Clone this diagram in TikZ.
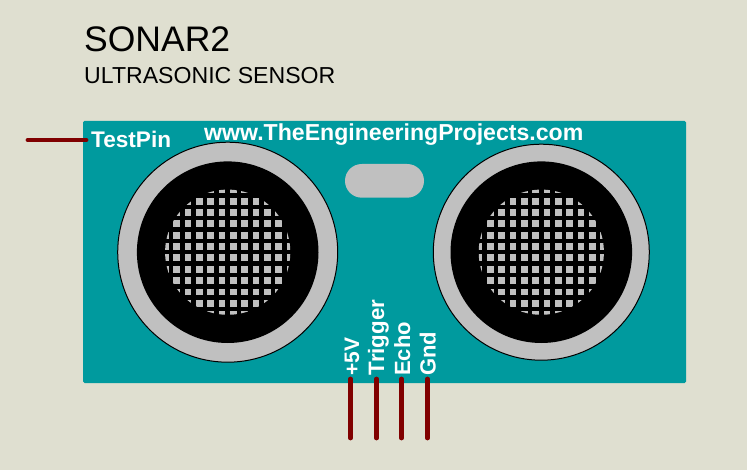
\documentclass[tikz,border=0pt]{standalone}
\usepackage{fontspec}
\setmainfont{Liberation Sans}
\definecolor{bgc}{HTML}{DFDFD0}
\definecolor{teal1}{HTML}{009A9E}
\definecolor{gry}{HTML}{C0C0C0}
\definecolor{pinc}{HTML}{800000}
\newcommand{\sonarcan}[3]{%
  \fill[gry,draw=black,line width=1pt] (#1,#2) circle[radius=#3];
  \fill[black] (#1,#2) circle[radius=90.8];
  \begin{scope}
    \clip (#1,#2) circle[radius=62.6];
    \foreach \i in {-6,...,5}{\foreach \j in {-6,...,5}{
      \fill[gry] ({#1+(\i+.5)*11.35-3.4},{#2+(\j+.5)*11.35-3.4}) rectangle ++(6.8,6.8);
    }}
  \end{scope}}
\tikzset{
  x=1pt,y=-1pt,
  boldlabel/.style={text=white,inner sep=0pt,anchor=base west,font=\bfseries\fontsize{22}{22}\selectfont},
  pinlabel/.style={boldlabel,rotate=90},
  pinwire/.style={pinc,line width=4.8pt,line cap=round},
  titlelabel/.style={text=black,inner sep=0pt,anchor=base west}
}
\begin{document}
\begin{tikzpicture}
\useasboundingbox (0,0) rectangle (747,470);
\fill[bgc] (0,0) rectangle (747,470);
\fill[teal1,rounded corners=1.5pt] (83,121) rectangle (686,383);
\sonarcan{227.7}{252.2}{110}
\sonarcan{541.3}{252.2}{108}
\fill[gry,rounded corners=16.8pt] (345,164) rectangle (424,197.7);
\node[titlelabel,font=\fontsize{35.5}{36}\selectfont] (title) at (84,52) {SONAR2};
\node[titlelabel,font=\fontsize{23.1}{24}\selectfont] (subtitle) at (84,84) {ULTRASONIC SENSOR};
\node[boldlabel,font=\bfseries\fontsize{23.1}{23}\selectfont] (web) at (204,140.5) {www.TheEngineeringProjects.com};
\node[boldlabel,font=\bfseries\fontsize{22.6}{23}\selectfont] (testpin) at (91,148) {TestPin};
\node[pinlabel,font=\bfseries\fontsize{21}{22}\selectfont] (p5v) at (359,376) {+5V};
\node[pinlabel,font=\bfseries\fontsize{22.3}{23}\selectfont] (ptrig) at (384,375.5) {Trigger};
\node[pinlabel] (pecho) at (410,376) {Echo};
\node[pinlabel] (pgnd) at (435.5,376) {Gnd};
\coordinate (a0) at (350.5,379); \coordinate (a1) at (350.5,438);
\coordinate (b0) at (376.5,379); \coordinate (b1) at (376.5,438);
\coordinate (c0) at (401.5,379); \coordinate (c1) at (401.5,438);
\coordinate (d0) at (427.5,379); \coordinate (d1) at (427.5,438);
\coordinate (t0) at (28,140); \coordinate (t1) at (86,140);
\draw[pinwire] (a0) -- (a1);
\draw[pinwire] (b0) -- (b1);
\draw[pinwire] (c0) -- (c1);
\draw[pinwire] (d0) -- (d1);
\draw[pinwire] (t0) -- (t1);
\end{tikzpicture}
\end{document}
